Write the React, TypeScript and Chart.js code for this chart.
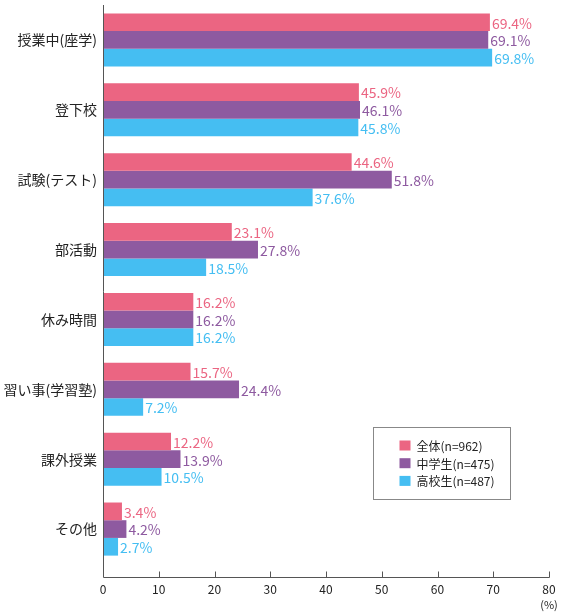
import React, { useEffect, useRef } from "react";
import { Chart, registerables } from "chart.js";

Chart.register(...registerables);

const categories = ["授業中(座学)", "登下校", "試験(テスト)", "部活動", "休み時間", "習い事(学習塾)", "課外授業", "その他"];
const seriesLabels = ["全体(n=962)", "中学生(n=475)", "高校生(n=487)"];
const allValues = [69.4, 45.9, 44.6, 23.1, 16.2, 15.7, 12.2, 3.4];
const juniorValues = [69.1, 46.1, 51.8, 27.8, 16.2, 24.4, 13.9, 4.2];
const seniorValues = [69.8, 45.8, 37.6, 18.5, 16.2, 7.2, 10.5, 2.7];
const colors = ["#EB6582", "#8E5AA0", "#45BEF2"];
const xMax = 80;
const xStep = 10;
const unitLabel = "(%)";

const FONT = '"Noto Sans CJK JP", "Noto Sans", sans-serif';
const AXIS_EXTEND = 13;

const valueLabelPlugin = {
  id: "valueLabels",
  afterDatasetsDraw(chart: any) {
    const ctx = chart.ctx;
    ctx.save();
    ctx.font = `14px ${FONT}`;
    ctx.textBaseline = "middle";
    ctx.textAlign = "left";
    chart.data.datasets.forEach((ds: any, i: number) => {
      const meta = chart.getDatasetMeta(i);
      ctx.fillStyle = ds.backgroundColor;
      meta.data.forEach((el: any, j: number) => {
        ctx.fillText(ds.data[j].toFixed(1) + "%", el.x + 2, el.y + 1);
      });
    });
    ctx.restore();
  },
};

const axisExtrasPlugin = {
  id: "axisExtras",
  afterDraw(chart: any) {
    const ctx = chart.ctx;
    const xs = chart.scales.x;
    const area = chart.chartArea;
    const axisY = Math.round(area.bottom + AXIS_EXTEND) + 0.5;
    const axisX = Math.round(area.left) + 0.5;
    ctx.save();
    ctx.strokeStyle = "#555";
    ctx.lineWidth = 1;
    ctx.beginPath();
    ctx.moveTo(axisX, area.top);
    ctx.lineTo(axisX, axisY);
    ctx.lineTo(Math.round(xs.getPixelForValue(xMax)) + 0.5, axisY);
    ctx.stroke();
    xs.ticks.forEach((t: any) => {
      if (t.value === 0) return;
      const px = Math.round(xs.getPixelForValue(t.value)) + 0.5;
      ctx.beginPath();
      ctx.moveTo(px, axisY);
      ctx.lineTo(px, axisY - 6);
      ctx.stroke();
    });
    ctx.fillStyle = "#222";
    ctx.font = `11px ${FONT}`;
    ctx.textAlign = "center";
    ctx.textBaseline = "middle";
    ctx.fillText(unitLabel, xs.getPixelForValue(xMax), axisY + 27);

    // legend
    const bx = area.left + 270.5;
    const by = area.top + 422.5;
    const bw = 137;
    const bh = 72;
    ctx.strokeStyle = "#888";
    ctx.strokeRect(bx, by, bw, bh);
    ctx.font = `12px ${FONT}`;
    ctx.textAlign = "left";
    chart.data.datasets.forEach((ds: any, i: number) => {
      const cy = by + 18 + i * 17.7;
      ctx.fillStyle = ds.backgroundColor;
      ctx.fillRect(bx + 26, cy - 5, 11, 10);
      ctx.fillStyle = "#222";
      ctx.fillText(ds.label, bx + 43, cy + 1);
    });
    ctx.restore();
  },
};

export default function App() {
  const ref = useRef<HTMLCanvasElement>(null);
  useEffect(() => {
    if (!ref.current) return;
    const chart = new Chart(ref.current, {
      type: "bar",
      data: {
        labels: categories,
        datasets: [allValues, juniorValues, seniorValues].map((d, i) => ({
          label: seriesLabels[i],
          data: d,
          backgroundColor: colors[i],
          borderWidth: 0,
        })),
      },
      options: {
        indexAxis: "y",
        animation: false,
        responsive: false,
        maintainAspectRatio: false,
        layout: { padding: { top: 5, right: 17, left: 0, bottom: 0 } },
        datasets: { bar: { barPercentage: 1, categoryPercentage: 0.76 } },
        plugins: { legend: { display: false }, tooltip: { enabled: false } },
        scales: {
          x: {
            min: 0,
            max: xMax,
            ticks: { stepSize: xStep, color: "#222", font: { family: FONT, size: 12 }, padding: 18 },
            grid: { display: false, drawTicks: false },
            border: { display: false },
            afterFit(scale: any) {
              scale.height = 51;
              scale.paddingLeft = 0;
              scale.paddingRight = 0;
            },
          },
          y: {
            ticks: { color: "#222", font: { family: FONT, size: 14 }, padding: 6 },
            grid: { display: false, drawTicks: false },
            border: { display: false },
            afterFit(scale: any) {
              scale.width = 103;
              scale.paddingTop = 0;
              scale.paddingBottom = 0;
            },
          },
        },
      },
      plugins: [valueLabelPlugin, axisExtrasPlugin],
    } as any);
    return () => chart.destroy();
  }, []);
  return (
    <div style={{ position: "fixed", left: 0, top: 0, width: 566, height: 615, background: "#fff" }}>
      <canvas ref={ref} width={566} height={615} style={{ width: 566, height: 615, display: "block" }} />
    </div>
  );
}
